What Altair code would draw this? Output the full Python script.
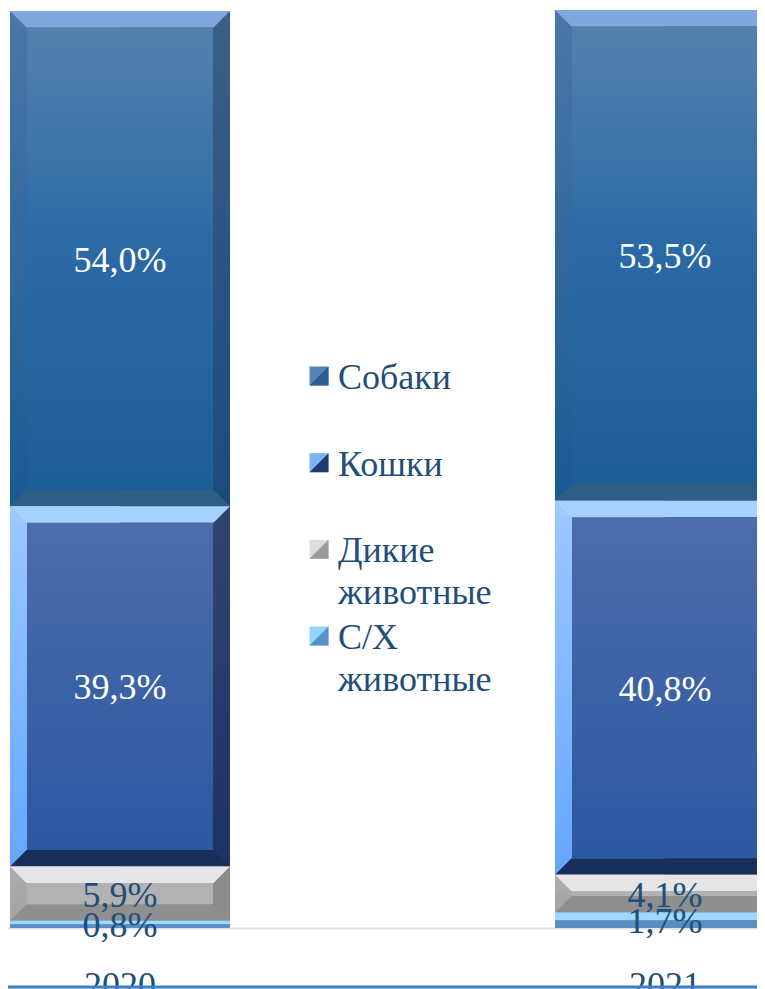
import altair as alt
import pandas as pd

# ---------------- data ----------------
years = ["2020", "2021"]
categories = ["Собаки", "Кошки", "Дикие животные", "С/Х животные"]
legend_labels = ["Собаки", "Кошки", "Дикие\nживотные", "С/Х\nживотные"]
values_2020 = [54.0, 39.3, 5.9, 0.8]
values_2021 = [53.5, 40.8, 4.1, 1.7]
stack_order = [3, 2, 1, 0]  # 0 = bottom of the stack

rows = []
for year, vals in zip(years, [values_2020, values_2021]):
    for cat, v, o in zip(categories, vals, stack_order):
        rows.append({"year": year, "cat": cat, "value": v, "order": o})
df = pd.DataFrame(rows)
leg_df = pd.DataFrame({"cat": categories, "label": legend_labels})

# ---------------- styles ----------------
FONT = "Liberation Serif, Times New Roman, DejaVu Serif, serif"
TXT = "#1F4E79"


def grad(*cols):
    n = len(cols)
    return alt.Gradient(
        gradient="linear", x1=0, x2=0, y1=0, y2=1,
        stops=[alt.GradientStop(color=c, offset=i / (n - 1)) for i, c in enumerate(cols)],
    )


STYLE = {
    "Собаки": dict(top="#7FA9DC", bottom="#2E5E86",
                   left=("#4A77A7", "#1B5A94"), right=("#3B5F86", "#1B4B7C"),
                   face=grad("#5381AE", "#2A69A5", "#1E5E98"), text="white", corners=True),
    "Кошки": dict(top="#A6D0FF", bottom="#182F5C",
                  left=("#9CC8FF", "#66A6FF"), right=("#2F4470", "#1C3363"),
                  face=grad("#4D6CAB", "#2B58A1"), text="white", corners=True),
    "Дикие животные": dict(top="#E6E6E6", bottom="#8F8F8F", left=("#ABABAB", "#A6A6A6"),
                           right=("#8C8C8C", "#8C8C8C"), face="#B2B2B2", text=TXT, corners=True),
    "С/Х животные": dict(top="#9ED8FF", bottom="#5B8EC2", left=("#70B8F2", "#70B8F2"),
                         right=("#5B8EC2", "#5B8EC2"), face="#7FB8E8", text=TXT, corners=False),
}
legend_light = ["#5585B5", "#7FB2F2", "#DCDCDC", "#92D4FF"]
legend_dark = ["#2C5E8E", "#1E3A70", "#9A9A9A", "#5A90C8"]

BAR_W = 220
BEV = 17
INSET = 1.8  # bevel depth in percent units (about 16-17 px)

# ---------------- chart ----------------
xenc = alt.X(
    "year:N",
    scale=alt.Scale(range=[0, 769], paddingInner=0.5963, paddingOuter=0.00367),
    axis=alt.Axis(title=None, labelAngle=0, ticks=False, tickSize=0, labelPadding=40,
                  labelFont=FONT, labelFontSize=36, labelColor=TXT,
                  domainColor="#E0E0E0", domainWidth=2),
)
yscale = alt.Scale(domain=[0, 100], nice=False, zero=True)


def Y(f):
    return alt.Y(f, scale=yscale, axis=None)


base = alt.Chart(df).transform_stack(
    stack="value", groupby=["year"], as_=["lo", "hi"],
    sort=[alt.SortField("order", order="ascending")],
).transform_calculate(
    hi_in=f"datum.hi - min({INSET}, datum.value / 2)",
    lo_in=f"datum.lo + min({INSET}, datum.value / 2)",
    mid="(datum.lo + datum.hi) / 2",
    label="replace(format(datum.value, '.1f'), '.', ',') + '%'",
)

TRI_LL = "M -1 -1 L 1 1 L -1 1 Z"   # lower-left half
TRI_LR = "M 1 -1 L 1 1 L -1 1 Z"    # lower-right half
TRI_UL = "M -1 -1 L 1 -1 L -1 1 Z"  # upper-left half
TRI_UR = "M -1 -1 L 1 -1 L 1 1 Z"   # upper-right half

bar_layers = []
text_layers = []
half = BAR_W / 2
c = BEV / 2
for cat in categories:
    s = STYLE[cat]
    f = base.transform_filter(alt.datum.cat == cat)
    bar_layers += [
        f.mark_bar(width=BAR_W, color=grad(*s["right"])).encode(x=xenc, y=Y("hi:Q"), y2="lo:Q"),
        f.mark_bar(width=half, xOffset=-half / 2, color=grad(*s["left"])).encode(x=xenc, y=Y("hi:Q"), y2="lo:Q"),
        f.mark_bar(width=BAR_W, color=s["top"]).encode(x=xenc, y=Y("hi:Q"), y2="hi_in:Q"),
        f.mark_bar(width=BAR_W, color=s["bottom"]).encode(x=xenc, y=Y("lo_in:Q"), y2="lo:Q"),
        f.mark_bar(width=BAR_W - 2 * BEV, color=s["face"]).encode(x=xenc, y=Y("hi_in:Q"), y2="lo_in:Q"),
    ]
    if s["corners"]:
        for shape, xo, yo, field, col in [
            (TRI_LL, -half + c, c, "hi:Q", s["left"][0]),
            (TRI_LR, half - c, c, "hi:Q", s["right"][0]),
            (TRI_UL, -half + c, -c, "lo:Q", s["left"][1]),
            (TRI_UR, half - c, -c, "lo:Q", s["right"][1]),
        ]:
            bar_layers.append(
                f.mark_point(shape=shape, filled=True, opacity=1, size=BEV * BEV,
                             xOffset=xo, yOffset=yo, color=col, strokeWidth=0)
                .encode(x=xenc, y=Y(field))
            )
    text_layers.append(
        f.mark_text(font=FONT, fontSize=36, dy=2, color=s["text"]).encode(
            x=xenc, y=Y("mid:Q"), text="label:N")
    )

bars = alt.layer(*bar_layers, *text_layers)

leg = alt.Chart(leg_df)
ly = alt.Y("cat:N", scale=alt.Scale(type="point", domain=categories, range=[365, 625], padding=0), axis=None)
leg_sq = leg.mark_point(shape="square", filled=True, size=361, opacity=1).encode(
    x=alt.value(311), y=ly,
    color=alt.Color("cat:N", scale=alt.Scale(domain=categories, range=legend_light), legend=None),
)
leg_tri = leg.mark_point(shape=TRI_LR, filled=True, size=361, opacity=1).encode(
    x=alt.value(311), y=ly,
    fill=alt.Fill("cat:N", scale=alt.Scale(domain=categories, range=legend_dark), legend=None),
)
leg_txt = leg.mark_text(align="left", baseline="alphabetic", lineBreak="\n", font=FONT,
                        fontSize=36, lineHeight=42, color=TXT, dy=13).encode(
    x=alt.value(330), y=ly, text="label:N")

bottom_line = alt.Chart(pd.DataFrame({"k": [0]})).mark_rule(color="#3F7FBF", strokeWidth=3).encode(
    x=alt.value(0), x2=alt.value(749), y=alt.value(976))

legend = alt.layer(leg_sq, leg_tri, leg_txt)

chart = alt.layer(bars, legend, bottom_line).resolve_scale(
    y="independent", color="independent", fill="independent"
).properties(
    width=749, height=917,
    autosize=alt.AutoSizeParams(type="none"),
    padding={"left": 0, "top": 3, "right": 0, "bottom": 61},
    background="white",
).configure_view(stroke=None)

chart.save("out.html", embed_options={"renderer": "svg", "actions": False})
